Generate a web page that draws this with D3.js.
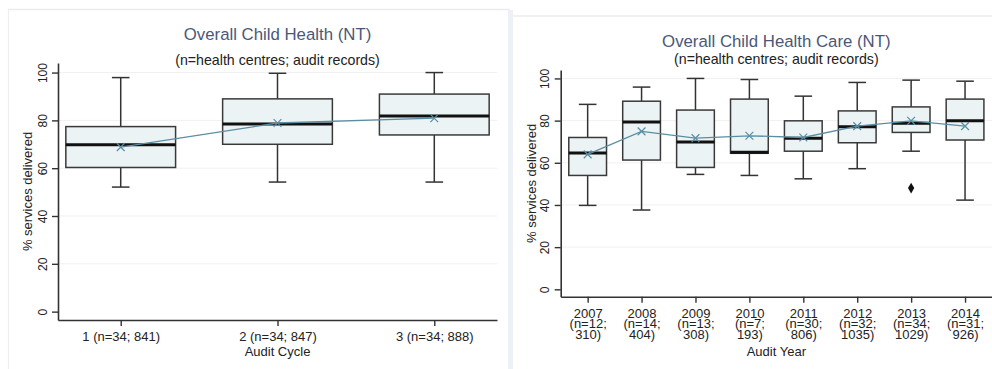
<!DOCTYPE html>
<html>
<head>
<meta charset="utf-8">
<script src="https://cdn.jsdelivr.net/npm/d3@7"></script>
<style>
  html, body { margin: 0; padding: 0; background: #fff; }
  svg { display: block; font-family: "Liberation Sans", Arial, sans-serif; }
</style>
</head>
<body>
<svg id="chart" width="992" height="369"></svg>
<script>
// Audit cycle box plots (left panel)
const cycleLabels = [["1 (n=34; 841)"], ["2 (n=34; 847)"], ["3 (n=34; 888)"]];
const cycleLow    = [52.1, 54.2, 54.2];
const cycleQ1     = [60.3, 70.0, 73.9];
const cycleMedian = [69.8, 78.5, 81.8];
const cycleQ3     = [77.4, 89.0, 91.0];
const cycleHigh   = [97.9, 99.7, 100.0];
const cycleMean   = [68.8, 78.9, 80.9];
const cycleOutliers = [];

// Audit year box plots (right panel)
const yearLabels = [
  ["2007", "(n=12;", "310)"],
  ["2008", "(n=14;", "404)"],
  ["2009", "(n=13;", "308)"],
  ["2010", "(n=7;", "193)"],
  ["2011", "(n=30;", "806)"],
  ["2012", "(n=32;", "1035)"],
  ["2013", "(n=34;", "1029)"],
  ["2014", "(n=31;", "926)"]
];
const yearLow    = [39.8, 37.6, 54.5, 54.0, 52.4, 57.2, 65.5, 42.3];
const yearQ1     = [54.0, 61.3, 57.8, 64.5, 65.5, 69.5, 74.4, 70.8];
const yearMedian = [64.7, 79.3, 69.8, 65.0, 71.6, 77.1, 78.7, 79.9];
const yearQ3     = [72.0, 89.2, 85.0, 90.2, 79.9, 84.6, 86.5, 90.2];
const yearHigh   = [87.7, 95.9, 100.0, 99.5, 91.6, 98.1, 99.2, 98.7];
const yearMean   = [64.0, 74.9, 71.7, 72.8, 72.0, 77.4, 79.9, 77.4];
const yearOutliers = [{ index: 6, value: 48.0 }];

const yTicks = [0, 20, 40, 60, 80, 100];
const yTitle = "% services delivered";

const svg = d3.select("#chart");

// Panel frames
svg.append("line").attr("x1", 8).attr("x2", 510).attr("y1", 9.5).attr("y2", 9.5)
  .attr("stroke", "#ececec").attr("stroke-width", 1.5);
svg.append("line").attr("x1", 8.5).attr("x2", 8.5).attr("y1", 9.5).attr("y2", 369)
  .attr("stroke", "#efefef").attr("stroke-width", 1.2);
svg.append("rect").attr("x", 508).attr("y", 10).attr("width", 5).attr("height", 359)
  .attr("fill", "#eef0f8");
svg.append("line").attr("x1", 513).attr("x2", 992).attr("y1", 16).attr("y2", 16)
  .attr("stroke", "#ececec").attr("stroke-width", 1.5);

function drawPanel(cfg) {
  const g = svg.append("g");
  const n = cfg.labels.length;
  const idx = d3.range(n);

  const x = d3.scalePoint().domain(idx).range([cfg.left, cfg.right]).padding(cfg.padding);
  const y = d3.scaleLinear().domain([-3.5, 104]).range([cfg.bottom, cfg.top]);
  const boxW = x.step() * 0.7;
  const capW = 17.6;

  // gridlines
  g.append("g").selectAll("line").data(yTicks.filter(t => t > 0)).join("line")
    .attr("x1", cfg.left).attr("x2", cfg.right)
    .attr("y1", d => y(d)).attr("y2", d => y(d))
    .attr("stroke", "#f1f1f1").attr("stroke-width", 1);

  // y axis
  const yAxis = g.append("g").attr("transform", `translate(${cfg.left},0)`)
    .call(d3.axisLeft(y).tickValues(yTicks).tickSize(6).tickPadding(5).tickSizeOuter(0));
  yAxis.select(".domain").attr("stroke", "#333").attr("stroke-width", 1.6);
  yAxis.selectAll(".tick line").attr("stroke", "#333").attr("stroke-width", 1.4);
  yAxis.selectAll(".tick text")
    .attr("font-size", 12).attr("fill", "#222")
    .attr("font-family", "Liberation Sans, Arial, sans-serif")
    .attr("transform", "rotate(-90)")
    .attr("x", 0).attr("y", -11.5)
    .attr("dy", 0)
    .attr("text-anchor", "middle");

  // x axis with multi-line category labels
  const xAxis = g.append("g").attr("transform", `translate(0,${cfg.bottom})`)
    .call(d3.axisBottom(x).tickSize(6).tickSizeOuter(0).tickFormat(""));
  xAxis.select(".domain").attr("stroke", "#333").attr("stroke-width", 1.6);
  xAxis.selectAll(".tick line").attr("stroke", "#333").attr("stroke-width", 1.4);
  xAxis.selectAll(".tick text").remove();
  xAxis.selectAll(".tick").each(function(d) {
    const t = d3.select(this).append("text")
      .attr("text-anchor", "middle").attr("fill", "#222")
      .attr("font-size", 13)
      .attr("font-family", "Liberation Sans, Arial, sans-serif");
    cfg.labels[d].forEach((line, i) => {
      t.append("tspan").attr("x", 0)
        .attr("y", cfg.labelBase - cfg.bottom + i * cfg.lineGap).text(line);
    });
  });

  // axis titles
  g.append("text")
    .attr("transform", `translate(${cfg.yTitleX},${(cfg.top + cfg.bottom) / 2}) rotate(-90)`)
    .attr("text-anchor", "middle").attr("font-size", 13).attr("fill", "#222")
    .text(yTitle);
  g.append("text")
    .attr("x", (cfg.left + cfg.right) / 2).attr("y", cfg.xTitleY)
    .attr("text-anchor", "middle").attr("font-size", 13).attr("fill", "#222")
    .text(cfg.xTitle);

  // titles
  g.append("text")
    .attr("x", (cfg.left + cfg.right) / 2).attr("y", cfg.titleY)
    .attr("text-anchor", "middle").attr("font-size", 16.8).attr("fill", "#4a5878")
    .text(cfg.title);
  g.append("text")
    .attr("x", (cfg.left + cfg.right) / 2).attr("y", cfg.subtitleY)
    .attr("text-anchor", "middle").attr("font-size", 14.2).attr("fill", "#222")
    .text("(n=health centres; audit records)");

  // whiskers
  const boxes = g.append("g").selectAll("g").data(idx).join("g");
  boxes.append("line")
    .attr("x1", i => x(i)).attr("x2", i => x(i))
    .attr("y1", i => y(cfg.high[i])).attr("y2", i => y(cfg.q3[i]))
    .attr("stroke", "#333").attr("stroke-width", 1.5);
  boxes.append("line")
    .attr("x1", i => x(i)).attr("x2", i => x(i))
    .attr("y1", i => y(cfg.q1[i])).attr("y2", i => y(cfg.low[i]))
    .attr("stroke", "#333").attr("stroke-width", 1.5);
  boxes.append("line")
    .attr("x1", i => x(i) - capW / 2).attr("x2", i => x(i) + capW / 2)
    .attr("y1", i => y(cfg.high[i])).attr("y2", i => y(cfg.high[i]))
    .attr("stroke", "#333").attr("stroke-width", 1.5);
  boxes.append("line")
    .attr("x1", i => x(i) - capW / 2).attr("x2", i => x(i) + capW / 2)
    .attr("y1", i => y(cfg.low[i])).attr("y2", i => y(cfg.low[i]))
    .attr("stroke", "#333").attr("stroke-width", 1.5);
  // boxes
  boxes.append("rect")
    .attr("x", i => x(i) - boxW / 2).attr("width", boxW)
    .attr("y", i => y(cfg.q3[i])).attr("height", i => y(cfg.q1[i]) - y(cfg.q3[i]))
    .attr("fill", "#ebf3f4").attr("stroke", "#3a3a3a").attr("stroke-width", 1.5);
  // medians
  boxes.append("line")
    .attr("x1", i => x(i) - boxW / 2).attr("x2", i => x(i) + boxW / 2)
    .attr("y1", i => y(cfg.median[i])).attr("y2", i => y(cfg.median[i]))
    .attr("stroke", "#111").attr("stroke-width", 3);

  // outliers
  g.append("g").selectAll("path").data(cfg.outliers).join("path")
    .attr("transform", d => `translate(${x(d.index)},${y(d.value)})`)
    .attr("d", d3.symbol(d3.symbolDiamond, 34))
    .attr("fill", "#111");

  // mean line with x markers
  const meanColor = "#5b8ea3";
  g.append("path")
    .datum(idx)
    .attr("d", d3.line().x(i => x(i)).y(i => y(cfg.mean[i])))
    .attr("fill", "none").attr("stroke", meanColor).attr("stroke-width", 1.3);
  g.append("g").selectAll("path").data(idx).join("path")
    .attr("transform", i => `translate(${x(i)},${y(cfg.mean[i])}) rotate(45)`)
    .attr("fill", "none").attr("stroke", meanColor).attr("stroke-width", 1.2)
    .attr("d", "M-5.5,0H5.5M0,-5.5V5.5");
}

drawPanel({
  labels: cycleLabels, low: cycleLow, q1: cycleQ1, median: cycleMedian,
  q3: cycleQ3, high: cycleHigh, mean: cycleMean, outliers: cycleOutliers,
  left: 58, right: 497, top: 63, bottom: 320, padding: 0.4,
  labelBase: 341, lineGap: 10.5, xTitleY: 355.5, yTitleX: 32,
  title: "Overall Child Health (NT)", titleY: 39.5, subtitleY: 65.3,
  xTitle: "Audit Cycle"
});

drawPanel({
  labels: yearLabels, low: yearLow, q1: yearQ1, median: yearMedian,
  q3: yearQ3, high: yearHigh, mean: yearMean, outliers: yearOutliers,
  left: 560.7, right: 992, top: 70, bottom: 296.7, padding: 0.5,
  labelBase: 318, lineGap: 10.3, xTitleY: 356, yTitleX: 536,
  title: "Overall Child Health Care (NT)", titleY: 46.5, subtitleY: 64,
  xTitle: "Audit Year"
});
</script>
</body>
</html>
